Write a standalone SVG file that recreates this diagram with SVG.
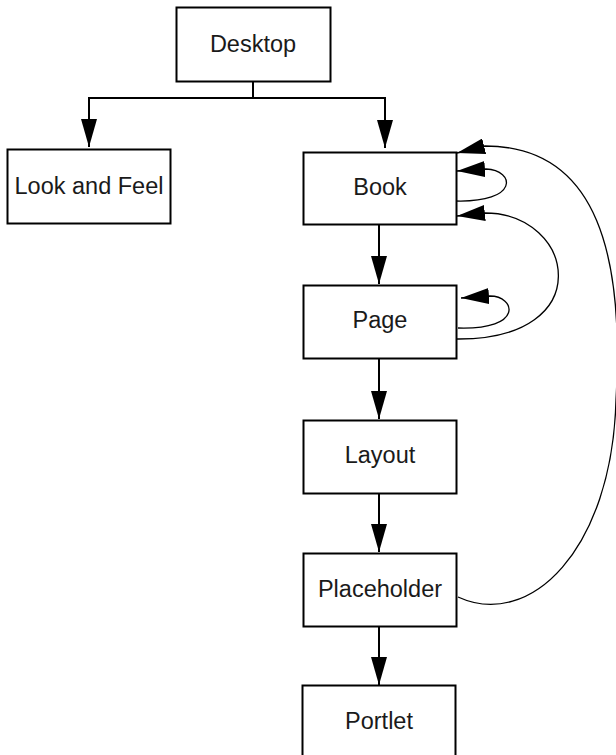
<svg xmlns="http://www.w3.org/2000/svg" width="616" height="755" viewBox="0 0 616 755">
<style>
.box{fill:#fff;stroke:#000;stroke-width:2}
.lbl{font-family:"Liberation Sans",Arial,sans-serif;font-size:23.5px;fill:#1a1a1a;text-anchor:middle}
.tree{fill:none;stroke:#000;stroke-width:2}
.curve{fill:none;stroke:#000;stroke-width:1.3}
</style>
<defs>
<marker id="ah" viewBox="0 0 28 16" refX="28" refY="8" markerUnits="userSpaceOnUse" markerWidth="28" markerHeight="16" orient="auto">
<path d="M0,0 L28,8 L0,16 z" fill="#000"/>
</marker>
</defs>
<rect width="616" height="755" fill="#fff"/>
<g id="connectors">
<path class="tree" d="M253,81 V99"/>
<path class="tree" d="M88,98 H386"/>
<path class="tree" d="M89,98 V147" marker-end="url(#ah)"/>
<path class="tree" d="M385,98 V148" marker-end="url(#ah)"/>
<path class="tree" d="M379,224 V284" marker-end="url(#ah)"/>
<path class="tree" d="M379,358 V419" marker-end="url(#ah)"/>
<path class="tree" d="M379,493 V552" marker-end="url(#ah)"/>
<path class="tree" d="M379,626 V685" marker-end="url(#ah)"/>
<path class="curve" d="M458,597 C530,630 612,550 616,400 C624,260 600,146 485,146 L457,153" marker-end="url(#ah)"/>
<path class="curve" d="M455,201 C520,203 515,170 486,169 L457,171" marker-end="url(#ah)"/>
<path class="curve" d="M457,339 C600,340 575,213 485,213 L457,216" marker-end="url(#ah)"/>
<path class="curve" d="M458,328 C525,330 515,296 490,296 L461,298" marker-end="url(#ah)"/>
</g>
<g id="desktop"><rect class="box" x="176.5" y="7.5" width="154" height="74"/><text class="lbl" x="253" y="52">Desktop</text></g>
<g id="lookandfeel"><rect class="box" x="7.5" y="149.5" width="163" height="74"/><text class="lbl" x="89" y="194">Look and Feel</text></g>
<g id="book"><rect class="box" x="303.5" y="152.5" width="153" height="72"/><text class="lbl" x="380" y="195">Book</text></g>
<g id="page"><rect class="box" x="303.5" y="285.5" width="153" height="73"/><text class="lbl" x="380" y="328">Page</text></g>
<g id="layout"><rect class="box" x="303.5" y="420.5" width="153" height="73"/><text class="lbl" x="380" y="463">Layout</text></g>
<g id="placeholder"><rect class="box" x="303.5" y="553.5" width="153" height="73"/><text class="lbl" x="380" y="597">Placeholder</text></g>
<g id="portlet"><rect class="box" x="302.5" y="685.5" width="153" height="80"/><text class="lbl" x="379" y="729">Portlet</text></g>
</svg>
